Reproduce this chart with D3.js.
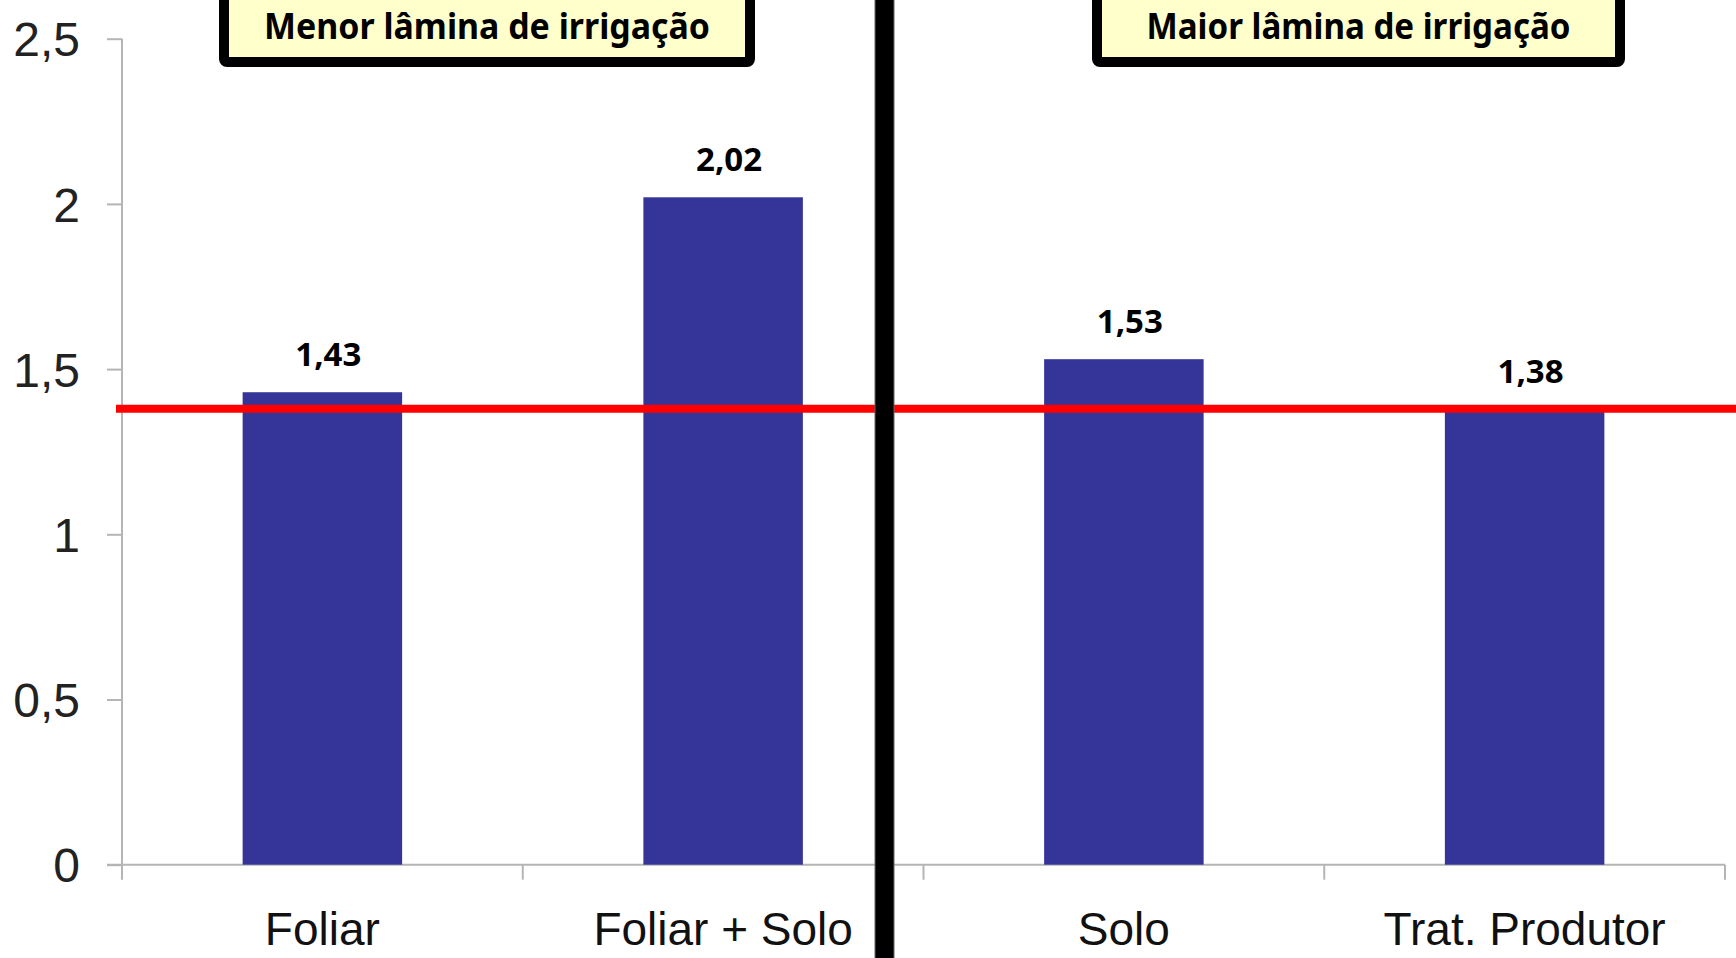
<!DOCTYPE html>
<html>
<head>
<meta charset="utf-8">
<script src="https://cdn.jsdelivr.net/npm/d3@7"></script>
<style>
  html, body { margin: 0; padding: 0; background: #fff; }
  svg { display: block; }
</style>
</head>
<body>
<svg id="chart" width="1736" height="958"></svg>
<script>
// ---- data ----
const categories = ["Foliar", "Foliar + Solo", "Solo", "Trat. Produtor"];
const values = [1.43, 2.02, 1.53, 1.38];
const valueLabels = ["1,43", "2,02", "1,53", "1,38"];
const yTicks = [0, 0.5, 1, 1.5, 2, 2.5];
const yTickLabels = ["0", "0,5", "1", "1,5", "2", "2,5"];
const referenceValue = 1.38;
const groupTitles = ["Menor lâmina de  irrigação", "Maior lâmina de irrigação"];

// ---- layout ----
const svg = d3.select("#chart");
const W = 1736, H = 958;
const x0 = 122, x1 = 1725;
const yBase = 864.7, yTop = 38.7;

const x = d3.scaleBand().domain(categories).range([x0, x1]).padding(0);
const y = d3.scaleLinear().domain([0, 2.5]).range([yBase, yTop]);
const barW = x.bandwidth() * 0.398;

// y axis
const yAxis = d3.axisLeft(y)
  .tickValues(yTicks)
  .tickFormat((d, i) => yTickLabels[i])
  .tickSize(15)
  .tickPadding(27)
  .tickSizeOuter(0);
const gy = svg.append("g").attr("transform", `translate(${x0},0)`).call(yAxis);
gy.select(".domain").remove();
gy.selectAll(".tick line").attr("stroke", "#b5b5b5").attr("stroke-width", 2);
gy.selectAll(".tick text")
  .attr("font-family", "Liberation Sans, Arial, sans-serif")
  .attr("font-size", 48)
  .attr("fill", "#222")
  .attr("dy", "0.36em");
svg.append("line")
  .attr("x1", x0).attr("x2", x0)
  .attr("y1", y(2.5)).attr("y2", yBase + 15)
  .attr("stroke", "#b5b5b5").attr("stroke-width", 2);

// x axis baseline + boundary ticks
svg.append("line")
  .attr("x1", x0 - 15).attr("x2", x1)
  .attr("y1", yBase).attr("y2", yBase)
  .attr("stroke", "#b5b5b5").attr("stroke-width", 2);
const boundaries = categories.map(c => x(c) + x.bandwidth());
svg.selectAll(".xb").data(boundaries).enter().append("line")
  .attr("x1", d => d).attr("x2", d => d)
  .attr("y1", yBase).attr("y2", yBase + 15)
  .attr("stroke", "#b5b5b5").attr("stroke-width", 2);

// x labels
const xAxis = d3.axisBottom(x).tickSize(0).tickPadding(0);
const gx = svg.append("g").attr("transform", `translate(0,${yBase})`).call(xAxis);
gx.select(".domain").remove();
gx.selectAll(".tick text")
  .attr("font-family", "Liberation Sans, Arial, sans-serif")
  .attr("font-size", 46)
  .attr("fill", "#111")
  .attr("dy", null)
  .attr("y", 80);

// bars
svg.selectAll(".bar").data(values).enter().append("rect")
  .attr("x", (d, i) => x(categories[i]) + (x.bandwidth() - barW) / 2)
  .attr("y", d => y(d))
  .attr("width", barW)
  .attr("height", d => yBase - y(d))
  .attr("fill", "#353599");

// value labels
svg.selectAll(".vl").data(values).enter().append("text")
  .attr("x", (d, i) => x(categories[i]) + x.bandwidth() / 2 + 6)
  .attr("y", d => y(d) - 26)
  .attr("text-anchor", "middle")
  .attr("font-family", "Noto Sans, Open Sans, sans-serif")
  .attr("font-weight", "bold")
  .attr("font-size", 33)
  .attr("fill", "#000")
  .text((d, i) => valueLabels[i]);

// reference line
svg.append("line")
  .attr("x1", 116).attr("x2", W)
  .attr("y1", y(referenceValue)).attr("y2", y(referenceValue))
  .attr("stroke", "#ff0000").attr("stroke-width", 8);

// divider
svg.append("rect")
  .attr("x", 875).attr("y", -2).attr("width", 19).attr("height", H + 4)
  .attr("fill", "#000").attr("stroke", "#666").attr("stroke-width", 1);

// group title boxes
const boxes = [
  { x: 224, w: 526, tw: 446 },
  { x: 1097, w: 523, tw: 424 }
];
boxes.forEach((b, i) => {
  svg.append("rect")
    .attr("x", b.x).attr("y", -20).attr("width", b.w).attr("height", 82)
    .attr("rx", 3)
    .attr("fill", "#ffffcc").attr("stroke", "#000").attr("stroke-width", 10);
  svg.append("text")
    .attr("x", b.x + b.w / 2).attr("y", 39)
    .attr("text-anchor", "middle")
    .attr("font-family", "Noto Sans, Open Sans, sans-serif")
    .attr("font-weight", "bold")
    .attr("font-size", 36)
    .attr("textLength", b.tw)
    .attr("lengthAdjust", "spacingAndGlyphs")
    .attr("fill", "#000")
    .text(groupTitles[i]);
});
</script>
</body>
</html>
